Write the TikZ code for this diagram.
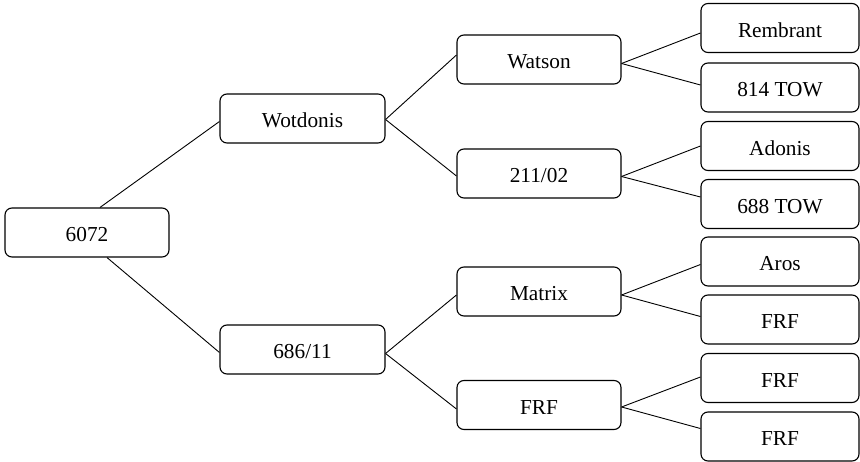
\documentclass[tikz,border=0pt]{standalone}
\usepackage{fontspec}
\setmainfont{Liberation Serif}
\begin{document}
\begin{tikzpicture}[x=1pt,y=-1pt,
  box/.style={draw=black, rounded corners=7pt, line width=1.1pt, inner sep=0pt,
    font=\fontsize{21.3}{24}\selectfont, text height=19pt, text depth=0pt},
  lvlA/.style={box, minimum width=164pt, minimum height=49pt},
  lvlB/.style={box, minimum width=165pt, minimum height=49pt},
  lvlC/.style={box, minimum width=164pt, minimum height=49pt},
  lvlD/.style={box, minimum width=158pt, minimum height=49pt},
  link/.style={draw=black, line width=0.9pt}]
\useasboundingbox (0,0) rectangle (860,462);
% level 0
\node[lvlA] (root) at (87,232.5) {6072};
% level 1
\node[lvlB] (wot) at (302.5,118.5) {Wotdonis};
\node[lvlB] (b686) at (302.5,349.5) {686/11};
% level 2
\node[lvlC] (wat) at (539,59.5) {Watson};
\node[lvlC] (b211) at (539,173.5) {211/02};
\node[lvlC] (mat) at (539,291.5) {Matrix};
\node[lvlC] (frfm) at (539,405) {FRF};
% level 3
\node[lvlD] (rem) at (780,28) {Rembrant};
\node[lvlD] (t814) at (780,87.5) {814 TOW};
\node[lvlD] (ado) at (780,146) {Adonis};
\node[lvlD] (t688) at (780,204) {688 TOW};
\node[lvlD] (aro) at (780,261.5) {Aros};
\node[lvlD] (frfa) at (780,319.5) {FRF};
\node[lvlD] (frfb) at (780,378) {FRF};
\node[lvlD] (frfc) at (780,436.5) {FRF};
% connectors
\draw[link] ([xshift=13pt]root.north) -- ([yshift=-3pt]wot.west);
\draw[link] ([xshift=20pt]root.south) -- ([yshift=-3pt]b686.west);
\draw[link] ([yshift=-1pt]wot.east) -- ([yshift=4.5pt]wat.west);
\draw[link] ([yshift=-1pt]wot.east) -- ([yshift=-2.5pt]b211.west);
\draw[link] ([yshift=-4pt]b686.east) -- ([yshift=-3.5pt]mat.west);
\draw[link] ([yshift=-4pt]b686.east) -- ([yshift=-4pt]frfm.west);
\draw[link] ([yshift=-4pt]wat.east) -- ([yshift=-5pt]rem.west);
\draw[link] ([yshift=-4pt]wat.east) -- ([yshift=2.5pt]t814.west);
\draw[link] ([yshift=-3pt]b211.east) -- (ado.west);
\draw[link] ([yshift=-3pt]b211.east) -- ([yshift=7pt]t688.west);
\draw[link] ([yshift=-3.5pt]mat.east) -- ([yshift=-3pt]aro.west);
\draw[link] ([yshift=-3.5pt]mat.east) -- ([yshift=3pt]frfa.west);
\draw[link] ([yshift=-2pt]frfm.east) -- ([yshift=1pt]frfb.west);
\draw[link] ([yshift=-2pt]frfm.east) -- ([yshift=8pt]frfc.west);
\end{tikzpicture}
\end{document}
